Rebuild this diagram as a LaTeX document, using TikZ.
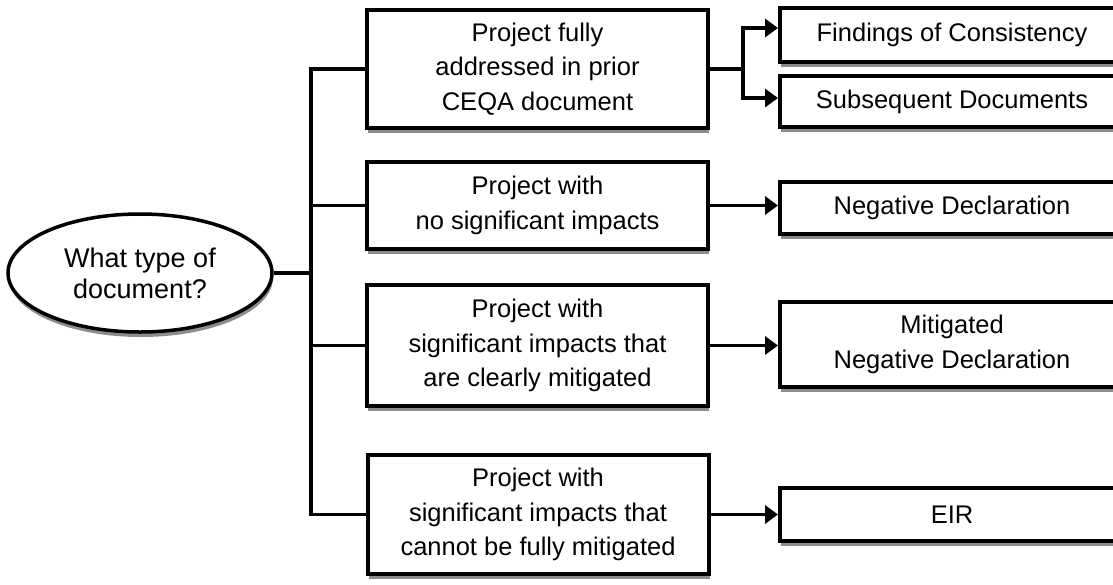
\documentclass[tikz,border=0pt]{standalone}
\usepackage{fontspec}
\setmainfont{Liberation Sans}
\usetikzlibrary{shapes.geometric,shadows,arrows.meta}
\begin{document}
\begin{tikzpicture}[x=1pt,y=-1pt,
  shad/.style={drop shadow={shadow xshift=1pt,shadow yshift=-5pt,fill=black,opacity=0.45}},
  midbox/.style={draw,line width=4pt,fill=white,shad,minimum width=341pt,inner sep=0pt,align=center,
    font=\fontsize{25.5}{34.5}\selectfont},
  resbox/.style={draw,line width=4pt,fill=white,shad,minimum width=344pt,inner sep=0pt,align=center,
    font=\fontsize{25.5}{34.5}\selectfont},
  conn/.style={line width=3.5pt,line join=miter},
  arr/.style={conn,-{Triangle[length=13pt,width=18pt]}}]
\useasboundingbox (0,0) rectangle (1113,584);
\clip (0,0) rectangle (1113,584);
\node[ellipse,draw,line width=3.5pt,fill=white,shad,minimum width=264pt,minimum height=118pt,inner sep=0pt,align=center,
  font=\fontsize{27}{31}\selectfont] (ell) at (140,273) {What type of\\document?};
\node[midbox,minimum height=118pt] (m1) at (537.5,69) {Project fully\\addressed in prior\\CEQA document};
\node[midbox,minimum height=87pt] (m2) at (537.5,205.5) {Project with\\no significant impacts};
\node[midbox,minimum height=121pt] (m3) at (537.5,345.5) {Project with\\significant impacts that\\are clearly mitigated};
\node[midbox,minimum height=119pt] (m4) at (538,514.5) {Project with\\significant impacts that\\cannot be fully mitigated};
\node[resbox,minimum height=54pt] (r1) at (952,35) {Findings of Consistency};
\node[resbox,minimum height=51pt] (r2) at (952,101.5) {Subsequent Documents};
\node[resbox,minimum height=52pt] (r3) at (952,208) {Negative Declaration};
\node[resbox,minimum height=85pt] (r4) at (952,344.5) {Mitigated\\Negative Declaration};
\node[resbox,minimum height=53pt] (r5) at (952,514.5) {EIR};
\coordinate (tk) at (311,0);
\coordinate (br) at (743,0);
\draw[conn] (ell.east) -- (ell.east -| tk);
\draw[conn] (m1.west) -- (m1.west -| tk) -- (m4.west -| tk) -- (m4.west);
\draw[conn] (m2.west -| tk) -- (m2.west);
\draw[conn] (m3.west -| tk) -- (m3.west);
\draw[conn] (m1.east) -- (m1.east -| br);
\draw[arr] (m1.east -| br) |- ([yshift=7pt]r1.west);
\draw[arr] (m1.east -| br) |- ([yshift=3.5pt]r2.west);
\draw[arr] (m2.east) -- (m2.east -| r3.west);
\draw[arr] (m3.east) -- (m3.east -| r4.west);
\draw[arr] (m4.east) -- (m4.east -| r5.west);
\end{tikzpicture}
\end{document}
